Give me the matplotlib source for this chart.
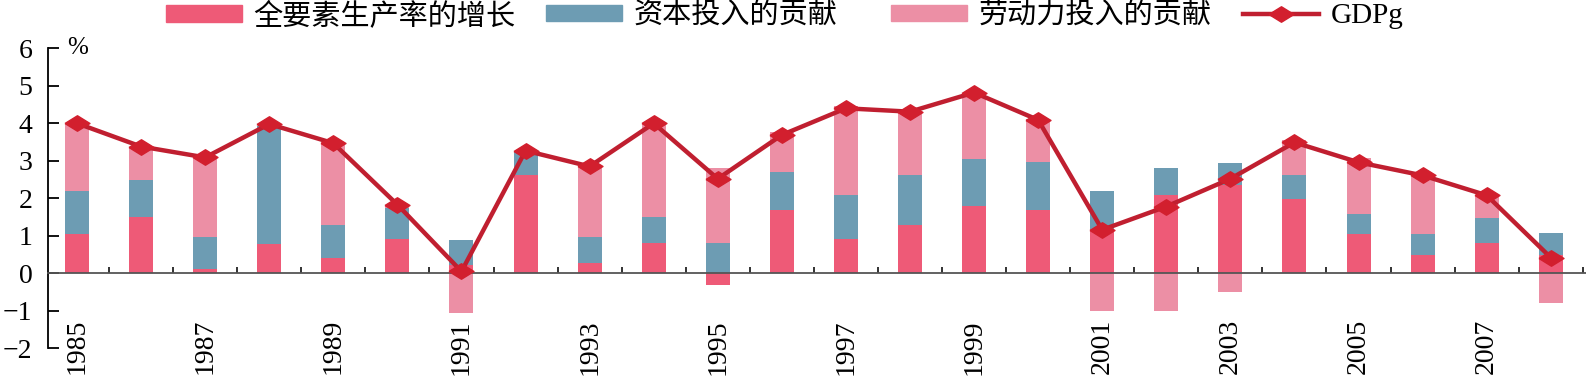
import numpy as np
import matplotlib
matplotlib.use("Agg")
import matplotlib.pyplot as plt
from matplotlib.patches import Patch
from matplotlib.lines import Line2D

# 数据 (从图上读取, %)
years = list(range(1985, 2009))
tfp = [1.06, 1.50, 0.12, 0.78, 0.41, 0.91, 0.22, 2.61, 0.28, 0.81, -0.30, 1.69,
       0.91, 1.28, 1.80, 1.68, 1.18, 2.09, 2.35, 1.99, 1.05, 0.50, 0.81, 0.50]
cap = [1.13, 0.99, 0.86, 3.15, 0.89, 0.83, 0.68, 0.66, 0.69, 0.68, 0.81, 1.01,
       1.17, 1.33, 1.24, 1.30, 1.01, 0.73, 0.59, 0.62, 0.54, 0.54, 0.67, 0.58]
lab = [1.79, 0.85, 2.09, 0.00, 2.20, 0.05, -1.06, 0.00, 1.88, 2.49, 2.01, 1.08,
       2.38, 1.70, 1.74, 1.13, -1.01, -1.01, -0.51, 0.95, 1.48, 1.57, 0.60, -0.80]
gdp = [4.00, 3.38, 3.09, 3.98, 3.47, 1.83, 0.05, 3.27, 2.85, 4.00, 2.52, 3.69,
       4.40, 4.31, 4.82, 4.09, 1.16, 1.78, 2.52, 3.49, 2.96, 2.61, 2.08, 0.42]
series_names = ["全要素生产率的增长", "资本投入的贡献", "劳动力投入的贡献", "GDPg"]
yticks = [-2, -1, 0, 1, 2, 3, 4, 5, 6]

c_tfp = "#EE5A77"
c_cap = "#6D9CB3"
c_lab = "#EC8FA5"
c_line = "#C01F30"
c_mark = "#D21F2E"

serif = ["Liberation Serif", "Noto Sans CJK SC"]

fig = plt.figure(figsize=(15.86, 3.78), dpi=100)
ax = fig.add_axes([0.0301, 0.0786, 0.9699, 0.7936])

x = np.arange(len(years))
w = 0.375
pos_base = np.zeros(len(years))
neg_base = np.zeros(len(years))
for vals, col in ((tfp, c_tfp), (cap, c_cap), (lab, c_lab)):
    vals = np.array(vals)
    bottom = np.where(vals >= 0, pos_base, neg_base)
    ax.bar(x, vals, w, bottom=bottom, color=col, linewidth=0, zorder=1)
    pos_base = pos_base + np.where(vals > 0, vals, 0)
    neg_base = neg_base + np.where(vals < 0, vals, 0)

diamond = [(-1, 0), (0, 0.62), (1, 0), (0, -0.62), (-1, 0)]
ax.plot(x, gdp, color=c_line, lw=3.2, marker=diamond, markersize=18,
        markerfacecolor=c_mark, markeredgecolor=c_mark, zorder=4)

ax.set_xlim(-0.457, 23.55)
ax.set_ylim(-2, 6)

for s in ("top", "right"):
    ax.spines[s].set_visible(False)
ax.spines["bottom"].set_position(("data", 0))
ax.spines["bottom"].set_color("#555555")
ax.spines["bottom"].set_linewidth(1.3)
ax.spines["left"].set_linewidth(1.3)

ax.set_xticks(x + 0.5)
ax.set_xticklabels([])
ax.tick_params(axis="x", direction="in", length=4, width=1.3, color="#222222")
ax.set_yticks(yticks)
ax.set_yticklabels([str(v).replace("-", "\u2212") for v in yticks],
                   family=serif, fontsize=20)
ax.tick_params(axis="y", direction="in", length=8, width=1.3, pad=11)

for i, yr in enumerate(years):
    if yr % 2 == 1:
        ax.text(i, -1.22, str(yr), rotation=90, ha="center", va="top",
                family=serif, fontsize=20)

ax.text(-0.16, 6.02, "%", ha="left", va="center", family=serif, fontsize=18)

# 图例: 每一项单独放, 位置对齐原图
handles = [Patch(color=c_tfp), Patch(color=c_cap), Patch(color=c_lab),
           Line2D([], [], color=c_line, lw=3.2, marker=diamond, markersize=18,
                  markerfacecolor=c_mark, markeredgecolor=c_mark)]
leg_x = [166, 546, 891, 1243]
for h, name, lx in zip(handles, series_names, leg_x):
    fig.legend([h], [name], loc="center left",
               bbox_to_anchor=(lx / 1586, 0.958), frameon=False,
               prop={"family": serif, "size": 21}, handlelength=2.6,
               handleheight=0.5, handletextpad=0.4,
               borderaxespad=0, borderpad=0)

fig.savefig("out.png", dpi=100)
